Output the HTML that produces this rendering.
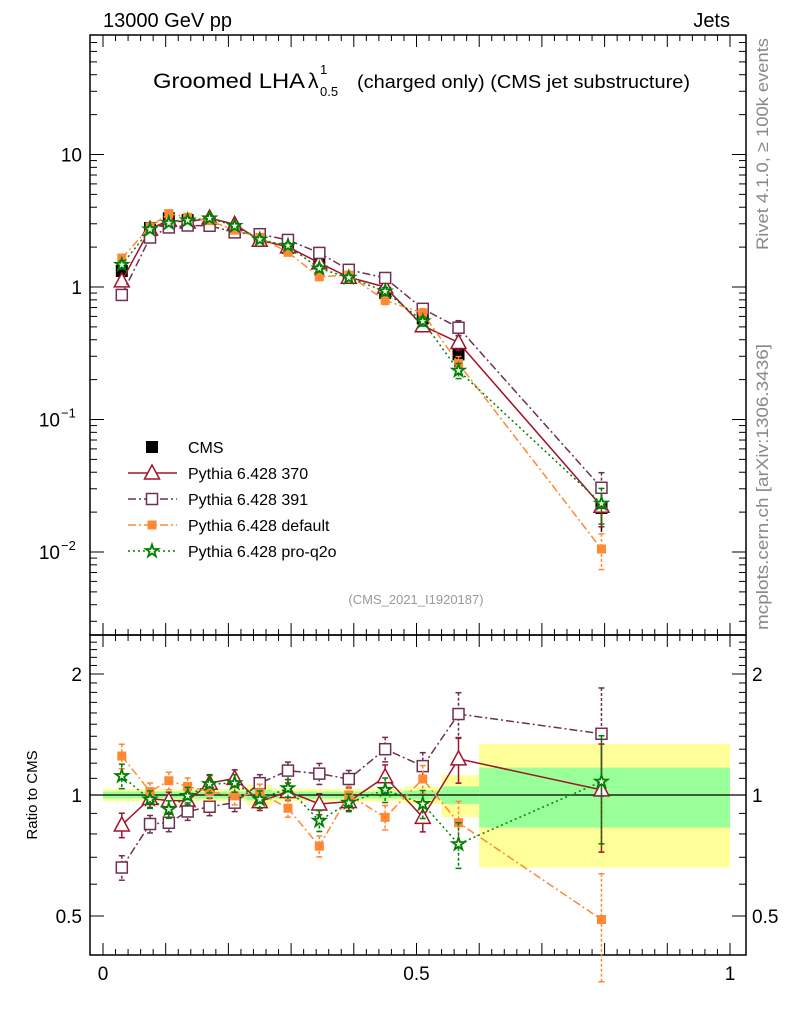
<!DOCTYPE html>
<html><head><meta charset="utf-8"><style>
body{margin:0;background:#fff}
svg{display:block;font-family:"Liberation Sans",sans-serif}
</style></head><body>
<svg id="c" width="786" height="1024" xmlns="http://www.w3.org/2000/svg"></svg>
<script>
const xs=[0.03,0.075,0.105,0.135,0.17,0.21,0.25,0.295,0.345,0.392,0.45,0.51,0.567,0.795];
const cms=[1.32,2.79,3.3,3.2,3.1,2.7,2.34,1.97,1.6,1.23,0.9,0.58,0.31,0.0215];
const cmsErr=[0.04,0.04,0.04,0.04,0.04,0.04,0.06,0.04,0.04,0.04,0.04,0.05,0.12,0.34];
const r370=[0.842,0.98,0.968,0.968,1.07,1.10,0.963,1.02,0.95,0.963,1.11,0.88,1.23,1.03];
const r391=[0.66,0.847,0.853,0.91,0.935,0.957,1.07,1.15,1.13,1.096,1.30,1.18,1.59,1.42];
const rdef=[1.25,1.02,1.085,1.05,1.02,0.995,1.013,0.927,0.746,1.0,0.88,1.096,0.853,0.49];
const rq2o=[1.115,0.975,0.921,0.995,1.065,1.07,0.975,1.04,0.863,0.957,1.03,0.95,0.755,1.08];
const mcErr=[0.07,0.05,0.05,0.05,0.05,0.05,0.05,0.05,0.06,0.05,0.07,0.08,0.13,0.3];
const edges=[0,0.05,0.09,0.12,0.15,0.19,0.23,0.27,0.32,0.37,0.42,0.48,0.54,0.6,1.0];
const bandY=[0.035,0.035,0.035,0.035,0.035,0.035,0.06,0.035,0.035,0.035,0.035,0.05,0.12,0.34];
const bandG=[0.02,0.02,0.02,0.02,0.02,0.02,0.03,0.02,0.02,0.02,0.02,0.025,0.05,0.17];
const yTickLabels=["10","1"];

const svg=document.getElementById('c');
const NS="http://www.w3.org/2000/svg";
const L=90,R=746,T=35,M=635,B=955;
const X=v=>103+627*v;
const Y=v=>287-132.5*Math.log10(v);
const RY=v=>795-402*Math.log10(v);
function el(t,a,p){const e=document.createElementNS(NS,t);for(const k in a)e.setAttribute(k,a[k]);(p||svg).appendChild(e);return e;}
function txt(x,y,s,a,p){const e=el('text',Object.assign({x:x,y:y},a||{}),p);e.textContent=s;return e;}

const bg=el('g',{});


for(let i=0;i<bandY.length;i++){
  const x1=X(edges[i]),x2=X(edges[i+1]);
  el('rect',{x:x1,y:RY(1+bandY[i]),width:x2-x1,height:RY(1-bandY[i])-RY(1+bandY[i]),fill:'#ffff99'},bg);
  el('rect',{x:x1,y:RY(1+bandG[i]),width:x2-x1,height:RY(1-bandG[i])-RY(1+bandG[i]),fill:'#99ff99'},bg);
}
el('line',{x1:L,x2:R,y1:RY(1),y2:RY(1),stroke:'#000','stroke-width':1.2});

const f1=el('rect',{x:L,y:T,width:R-L,height:M-T,fill:'none',stroke:'#000','stroke-width':1.5});

const f2=el('rect',{x:L,y:M,width:R-L,height:B-M,fill:'none',stroke:'#000','stroke-width':1.5});


for(let i=0;i<=50;i++){const v=i*0.02,x=X(v);const maj=(i%5==0);const len=maj?12:6;
  for(const [yt,yb] of [[T,M],[M,B]]){el('line',{x1:x,x2:x,y1:yt,y2:yt+len,stroke:'#000'});el('line',{x1:x,x2:x,y1:yb,y2:yb-len,stroke:'#000'});}}
[[0,"0"],[0.5,"0.5"],[1,"1"]].forEach(([v,s])=>{const t=txt(X(v),980,s,{'font-size':19,'text-anchor':'middle'});});

for(let d=-3;d<=1;d++)for(let k=1;k<=9;k++){const v=k*Math.pow(10,d);const y=Y(v);if(y<T||y>M)continue;const len=k==1?14:7;
  el('line',{x1:L,x2:L+len,y1:y,y2:y,stroke:'#000'});el('line',{x1:R,x2:R-len,y1:y,y2:y,stroke:'#000'});}
txt(82,Y(10)+7,yTickLabels[0],{'font-size':19,'text-anchor':'end'});
txt(82,Y(1)+7,yTickLabels[1],{'font-size':19,'text-anchor':'end'});
txt(60,Y(0.1)+7,"10",{'font-size':19,'text-anchor':'end'});txt(61,Y(0.1)-2,"−1",{'font-size':13});
txt(60,Y(0.01)+7,"10",{'font-size':19,'text-anchor':'end'});txt(61,Y(0.01)-2,"−2",{'font-size':13});

for(let k=4;k<=25;k++){const v=k/10;const y=RY(v);if(y<M||y>B)continue;const maj=(v==0.5||v==1||v==2);const len=maj?14:7;
  el('line',{x1:L,x2:L+len,y1:y,y2:y,stroke:'#000'});el('line',{x1:R,x2:R-len,y1:y,y2:y,stroke:'#000'});}
[[2,"2"],[1,"1"],[0.5,"0.5"]].forEach(([v,s])=>{txt(82,RY(v)+7,s,{'font-size':19,'text-anchor':'end'});txt(752,RY(v)+7,s,{'font-size':19});});
const yt=txt(0,0,"Ratio to CMS",{'font-size':15,transform:'translate(37,795) rotate(-90)','text-anchor':'middle'});


txt(103,27,"13000 GeV pp",{'font-size':20});
txt(730,27,"Jets",{'font-size':20,'text-anchor':'end'});
const tg=el('g',{});
txt(153,88,"Groomed LHA",{'font-size':21,textLength:152,lengthAdjust:'spacingAndGlyphs'},tg);
txt(308,88,"λ",{'font-size':21},tg);
txt(320,74,"1",{'font-size':13},tg);
txt(320,96,"0.5",{'font-size':13},tg);
txt(357,88,"(charged only) (CMS jet substructure)",{'font-size':18,textLength:333,lengthAdjust:'spacingAndGlyphs'},tg);
txt(416,604,"(CMS_2021_I1920187)",{'font-size':13,fill:'#999','text-anchor':'middle'});
txt(0,0,"Rivet 4.1.0, ≥ 100k events",{'font-size':17,fill:'#888',transform:'translate(768,250) rotate(-90)',textLength:212,lengthAdjust:'spacingAndGlyphs'});
txt(0,0,"mcplots.cern.ch [arXiv:1306.3436]",{'font-size':17,fill:'#888',transform:'translate(768,630) rotate(-90)',textLength:286,lengthAdjust:'spacingAndGlyphs'});

function marker(g,type,x,y,c){
  if(type=='sq')el('rect',{x:x-6,y:y-6,width:12,height:12,fill:'#000'},g);
  else if(type=='tri')el('polygon',{points:`${x},${y-8} ${x-7.5},${y+6} ${x+7.5},${y+6}`,fill:'#fff',stroke:c,'stroke-width':1.5},g);
  else if(type=='osq')el('rect',{x:x-5.5,y:y-5.5,width:11,height:11,fill:'#fff',stroke:c,'stroke-width':1.5},g);
  else if(type=='fsq')el('rect',{x:x-4.5,y:y-4.5,width:9,height:9,fill:c},g);
  else if(type=='star'){let p=[];for(let i=0;i<10;i++){const r=i%2?2.5:6.5,a=-Math.PI/2+i*Math.PI/5;p.push((x+r*Math.cos(a)).toFixed(1)+','+(y+r*Math.sin(a)).toFixed(1));}
    el('polygon',{points:p.join(' '),fill:'#fff',stroke:c,'stroke-width':1.8},g);}
}
const series=[
 {name:'pythia-370',label:'Pythia 6.428 370',r:r370,c:'#a0142d',m:'tri',dash:''},
 {name:'pythia-391',label:'Pythia 6.428 391',r:r391,c:'#703050',m:'osq',dash:'8,3,2,3'},
 {name:'pythia-default',label:'Pythia 6.428 default',r:rdef,c:'#ff8833',m:'fsq',dash:'8,3,2,3'},
 {name:'pythia-pro-q2o',label:'Pythia 6.428 pro-q2o',r:rq2o,c:'#008000',m:'star',dash:'2,3'}];
function drawSeries(s,main){
  const g=el('g',{});
  
  
  const pts=xs.map((x,i)=>[X(x),main?Y(cms[i]*s.r[i]):RY(s.r[i])]);
  el('polyline',{points:pts.map(p=>p.join(',')).join(' '),fill:'none',stroke:s.c,'stroke-width':1.5,'stroke-dasharray':s.dash},g);
  xs.forEach((x,i)=>{const v=main?cms[i]*s.r[i]:s.r[i];const F=main?Y:RY;
    const y1=F(v*(1+mcErr[i])),y2=F(v*(1-mcErr[i]));const px=X(x);
    el('line',{x1:px,x2:px,y1:y1,y2:y2,stroke:s.c,'stroke-width':1.5,'stroke-dasharray':s.dash?'3,2':''},g);
    el('line',{x1:px-3,x2:px+3,y1:y1,y2:y1,stroke:s.c,'stroke-width':1.5},g);
    el('line',{x1:px-3,x2:px+3,y1:y2,y2:y2,stroke:s.c,'stroke-width':1.5},g);
    marker(g,s.m,px,main?Y(v):RY(v),s.c);});
}
const cg=el('g',{});


xs.forEach((x,i)=>{const px=X(x);el('line',{x1:px,x2:px,y1:Y(cms[i]*(1+cmsErr[i])),y2:Y(cms[i]*(1-cmsErr[i])),stroke:'#000','stroke-width':1.5},cg);marker(cg,'sq',px,Y(cms[i]),'#000');});
series.forEach(s=>{drawSeries(s,true);drawSeries(s,false);});

const lg=el('g',{});


const rows=[{t:'CMS',m:'sq',c:'#000',dash:null}].concat(series.map(s=>({t:s.label,m:s.m,c:s.c,dash:s.dash})));
rows.forEach((r,i)=>{const y=447+26*i;const e=el('g',{},lg);
  
  
  if(r.dash!==null)el('line',{x1:128,x2:177,y1:y,y2:y,stroke:r.c,'stroke-width':1.5,'stroke-dasharray':r.dash},e);
  marker(e,r.m,152,y,r.c);
  txt(188,y+6,r.t,{'font-size':16},e);});
</script>
</body></html>
